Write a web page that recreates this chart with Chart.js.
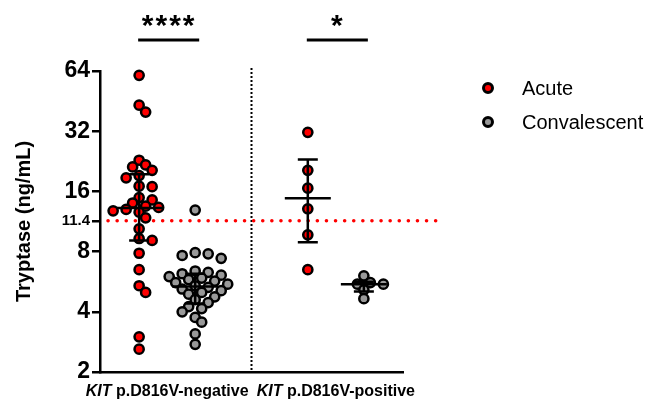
<!DOCTYPE html>
<html>
<head>
<meta charset="utf-8">
<script src="https://cdn.jsdelivr.net/npm/chart.js@4/dist/chart.umd.min.js"></script>
<style>
  html, body { margin: 0; padding: 0; background: #fff; }
  #wrap { width: 650px; height: 402px; position: relative; }
</style>
</head>
<body>
<div id="wrap"><canvas id="chart"></canvas></div>
<script>
'use strict';

// values (ng/mL)
const groupNames = ['p.D816V-negative', 'p.D816V-positive'];
const groupCenters = [1.33, 4.67];
const acuteNeg = [60.9, 43.2, 39.9, 22.9, 21.7, 21.2, 20.4, 19.2, 18.7, 17.0, 16.9, 14.9, 14.5, 14.0, 13.5, 13.3, 13.0, 12.8, 12.6, 11.8, 10.4, 9.3, 9.1, 7.85, 6.5, 5.4, 5.0, 3.0, 2.6];
const convNeg = [12.9, 7.9, 7.8, 7.65, 7.4, 6.4, 6.3, 6.2, 6.1, 6.0, 5.9, 5.8, 5.7, 5.6, 5.5, 5.4, 5.3, 5.2, 5.1, 5.0, 4.9, 4.75, 4.6, 4.45, 4.25, 4.15, 4.0, 3.75, 3.55, 3.1, 2.75];
const acutePos = [31.6, 20.4, 16.6, 13.1, 9.7, 6.5];
const convPos = [6.05, 5.6, 5.5, 5.5, 5.15, 4.65];
// median and interquartile range: acuteNeg, convNeg, acutePos, convPos
const medians = [13.2, 5.35, 14.8, 5.5];
const lowerQ = [9.1, 4.4, 8.9, 5.05];
const upperQ = [19.5, 6.2, 23.1, 5.65];
const yTicks = [2, 4, 8, 11.4, 16, 32, 64];
const cutoff = 11.4;
const stars = ['****', '*'];

const FONT = "'Liberation Sans', Arial, sans-serif";
const sideShift = 0.555; // acute left, convalescent right of the group centre

function pts(values, x) {
    return values.map(v => ({ x: x, y: v, base: x }));
}

const extras = {
    id: 'extras',
    beforeDatasetsDraw(chart) {
        const ctx = chart.ctx;
        const xs = chart.scales.x, ys = chart.scales.y;
        const area = chart.chartArea;
        ctx.save();
        // divider
        ctx.strokeStyle = '#000';
        ctx.lineWidth = 2;
        ctx.setLineDash([2, 2]);
        ctx.beginPath();
        ctx.moveTo(xs.getPixelForValue(3), area.top - 3);
        ctx.lineTo(xs.getPixelForValue(3), area.bottom);
        ctx.stroke();
        // cutoff line
        ctx.strokeStyle = '#ff0000';
        ctx.lineWidth = 3.5;
        ctx.lineCap = 'round';
        ctx.setLineDash([0.1, 9]);
        const cy = ys.getPixelForValue(cutoff);
        ctx.beginPath();
        ctx.moveTo(area.left + 8, cy);
        ctx.lineTo(area.right + 36, cy);
        ctx.stroke();
        ctx.restore();
    },
    afterDatasetsDraw(chart) {
        const ctx = chart.ctx;
        const xs = chart.scales.x, ys = chart.scales.y;
        const centres = [
            groupCenters[0] - sideShift, groupCenters[0] + sideShift,
            groupCenters[1] - sideShift, groupCenters[1] + sideShift
        ];
        ctx.save();
        ctx.strokeStyle = '#000';
        ctx.lineWidth = 2.5;
        for (let i = 0; i < centres.length; i++) {
            const x = xs.getPixelForValue(centres[i]);
            const ym = ys.getPixelForValue(medians[i]);
            const y1 = ys.getPixelForValue(lowerQ[i]);
            const y3 = ys.getPixelForValue(upperQ[i]);
            ctx.beginPath();
            ctx.moveTo(x, y1); ctx.lineTo(x, y3);
            ctx.moveTo(x - 10, y1); ctx.lineTo(x + 10, y1);
            ctx.moveTo(x - 10, y3); ctx.lineTo(x + 10, y3);
            ctx.moveTo(x - 23, ym); ctx.lineTo(x + 23, ym);
            ctx.stroke();
        }
        ctx.restore();
    },
    afterDraw(chart) {
        const ctx = chart.ctx;
        const xs = chart.scales.x;
        ctx.save();
        // category labels with italic gene name
        ctx.fillStyle = '#000';
        ctx.textBaseline = 'middle';
        for (let i = 0; i < groupNames.length; i++) {
            const a = 'italic bold 16px ' + FONT;
            const b = 'bold 16px ' + FONT;
            ctx.font = a;
            const w1 = ctx.measureText('KIT').width;
            ctx.font = b;
            const rest = ' ' + groupNames[i];
            const w2 = ctx.measureText(rest).width;
            const x0 = xs.getPixelForValue(groupCenters[i]) - (w1 + w2) / 2;
            ctx.font = a;
            ctx.fillText('KIT', x0, 392);
            ctx.font = b;
            ctx.fillText(rest, x0 + w1, 392);
        }
        // significance bars
        ctx.lineWidth = 3;
        ctx.strokeStyle = '#000';
        ctx.textAlign = 'center';
        ctx.textBaseline = 'alphabetic';
        ctx.font = 'bold 30px ' + FONT;
        ctx.letterSpacing = '2px';
        for (let i = 0; i < groupCenters.length; i++) {
            const xa = xs.getPixelForValue(groupCenters[i] - sideShift);
            const xb = xs.getPixelForValue(groupCenters[i] + sideShift);
            ctx.beginPath();
            ctx.moveTo(xa - 1, 40); ctx.lineTo(xb + 4, 40);
            ctx.stroke();
            ctx.fillText(stars[i], (xa + xb) / 2 + 2, 35);
        }
        ctx.letterSpacing = '0px';
        // legend
        const items = chart.data.datasets;
        ctx.textAlign = 'left';
        ctx.textBaseline = 'middle';
        ctx.font = '20px ' + FONT;
        for (let i = 0; i < items.length; i++) {
            const y = 88 + i * 34;
            ctx.beginPath();
            ctx.arc(488, y, 4.5, 0, Math.PI * 2);
            ctx.fillStyle = items[i].backgroundColor;
            ctx.fill();
            ctx.lineWidth = 3;
            ctx.strokeStyle = '#000';
            ctx.stroke();
            ctx.fillStyle = '#000';
            ctx.fillText(items[i].label, 522, y + 1);
        }
        ctx.restore();
    }
};

// spread points of one group sideways so they do not sit on top of each other
function swarm(chart) {
    const xs = chart.scales.x, ys = chart.scales.y;
    chart.data.datasets.forEach(ds => {
        const groups = {};
        ds.data.forEach(p => { (groups[p.base] = groups[p.base] || []).push(p); });
        Object.keys(groups).forEach(k => {
            const list = groups[k].slice().sort((a, b) => b.y - a.y);
            const cx = xs.getPixelForValue(list[0].base);
            const placed = [];
            list.forEach(p => {
                const py = ys.getPixelForValue(p.y);
                let off = 0;
                for (let n = 0; n < 40; n++) {
                    const step = Math.ceil(n / 2) * (n % 2 ? 1 : -1) * 6.5;
                    const ok = placed.every(q => Math.hypot(q.x - (cx + step), q.y - py) >= 8);
                    if (ok) { off = step; break; }
                }
                placed.push({ x: cx + off, y: py });
                p.x = xs.getValueForPixel(cx + off);
            });
        });
    });
    chart.update('none');
}

const chart = new Chart(document.getElementById('chart'), {
    type: 'scatter',
    data: {
        datasets: [
            {
                label: 'Acute',
                data: pts(acuteNeg, groupCenters[0] - sideShift).concat(pts(acutePos, groupCenters[1] - sideShift)),
                backgroundColor: '#ff0000',
                borderColor: '#000',
                borderWidth: 2.5,
                pointRadius: 4.6,
                clip: false
            },
            {
                label: 'Convalescent',
                data: pts(convNeg, groupCenters[0] + sideShift).concat(pts(convPos, groupCenters[1] + sideShift)),
                backgroundColor: '#999999',
                borderColor: '#000',
                borderWidth: 2.5,
                pointRadius: 4.6,
                clip: false
            }
        ]
    },
    options: {
        responsive: true,
        maintainAspectRatio: false,
        animation: false,
        layout: { padding: { top: 71, right: 247, bottom: 0, left: 0 } },
        plugins: {
            legend: { display: false },
            tooltip: { enabled: false }
        },
        scales: {
            x: {
                type: 'linear',
                min: 0,
                max: 6,
                grid: { display: false },
                border: { color: '#000', width: 2.5 },
                ticks: { display: false },
                afterFit(scale) { scale.height = 30; }
            },
            y: {
                type: 'logarithmic',
                min: 2,
                max: 64,
                afterBuildTicks(scale) { scale.ticks = yTicks.map(v => ({ value: v })); },
                afterFit(scale) { scale.width = 100; },
                grid: {
                    display: true,
                    drawOnChartArea: false,
                    drawTicks: true,
                    tickLength: 8,
                    lineWidth: 2.5,
                    color: '#000'
                },
                border: { color: '#000', width: 2.5 },
                ticks: {
                    color: '#000',
                    padding: 2,
                    callback: v => String(v),
                    font: c => (c.tick && c.tick.value === 11.4)
                        ? { family: FONT, size: 15, weight: 'bold' }
                        : { family: FONT, size: 23, weight: 'bold' }
                },
                title: {
                    display: true,
                    text: 'Tryptase (ng/mL)',
                    color: '#000',
                    font: { family: FONT, size: 20, weight: 'bold' },
                    padding: { top: 12, bottom: 0 }
                }
            }
        }
    },
    plugins: [extras]
});

swarm(chart);
</script>
</body>
</html>
